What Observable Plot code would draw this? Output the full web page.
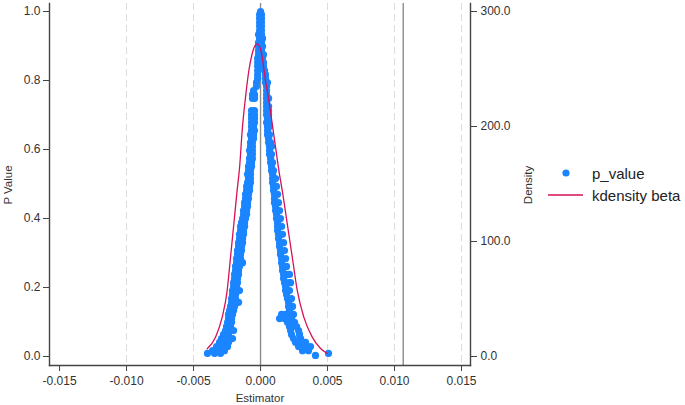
<!DOCTYPE html>
<html>
<head>
<meta charset="utf-8">
<script src="https://cdn.jsdelivr.net/npm/d3@7"></script>
<script src="https://cdn.jsdelivr.net/npm/@observablehq/plot@0.6"></script>
<style>
  html, body { margin: 0; padding: 0; background: #fff; }
  #chart { width: 685px; height: 405px; }
</style>
</head>
<body>
<div id="chart"></div>
<script>
// ---- data (one line per row of the scatter) ----
const pValue = [
  1.000,
  0.991, 0.991,
  0.980, 0.980,
  0.968, 0.968,
  0.957, 0.957,
  0.945, 0.945,
  0.933, 0.933,
  0.922, 0.922,
  0.910, 0.910,
  0.899, 0.899, 0.899,
  0.887, 0.887,
  0.875, 0.875, 0.875,
  0.864, 0.864,
  0.852, 0.852, 0.852,
  0.841, 0.841,
  0.829, 0.829,
  0.817, 0.817,
  0.806, 0.806,
  0.794, 0.794, 0.794,
  0.783, 0.783,
  0.771, 0.771,
  0.759, 0.759, 0.759,
  0.748, 0.748, 0.748, 0.748,
  0.736,
  0.725, 0.725,
  0.713, 0.713, 0.713, 0.713,
  0.701, 0.701, 0.701, 0.701,
  0.690, 0.690, 0.690,
  0.678, 0.678, 0.678, 0.678,
  0.667, 0.667, 0.667, 0.667,
  0.655, 0.655, 0.655,
  0.643, 0.643, 0.643, 0.643,
  0.632, 0.632, 0.632,
  0.620, 0.620, 0.620, 0.620,
  0.609, 0.609, 0.609, 0.609,
  0.597, 0.597, 0.597,
  0.586, 0.586, 0.586, 0.586,
  0.574, 0.574, 0.574,
  0.562, 0.562, 0.562, 0.562,
  0.551, 0.551, 0.551,
  0.539, 0.539, 0.539, 0.539,
  0.528, 0.528, 0.528,
  0.516, 0.516, 0.516, 0.516,
  0.504, 0.504, 0.504,
  0.493, 0.493, 0.493, 0.493,
  0.481, 0.481, 0.481,
  0.470, 0.470, 0.470, 0.470,
  0.458, 0.458, 0.458,
  0.446, 0.446, 0.446, 0.446,
  0.435, 0.435, 0.435,
  0.423, 0.423, 0.423, 0.423,
  0.412, 0.412, 0.412,
  0.400, 0.400, 0.400, 0.400,
  0.388, 0.388, 0.388,
  0.377, 0.377, 0.377, 0.377,
  0.365, 0.365, 0.365,
  0.354, 0.354, 0.354, 0.354,
  0.342, 0.342, 0.342,
  0.330, 0.330, 0.330, 0.330,
  0.319, 0.319, 0.319,
  0.307, 0.307, 0.307, 0.307,
  0.296, 0.296, 0.296,
  0.284, 0.284, 0.284, 0.284,
  0.272, 0.272, 0.272, 0.272,
  0.261, 0.261, 0.261, 0.261,
  0.249, 0.249, 0.249,
  0.238, 0.238, 0.238, 0.238, 0.238,
  0.226, 0.226, 0.226,
  0.214, 0.214, 0.214, 0.214, 0.214,
  0.203, 0.203, 0.203,
  0.191, 0.191, 0.191, 0.191, 0.191,
  0.180, 0.180, 0.180,
  0.168, 0.168, 0.168, 0.168,
  0.157, 0.157, 0.157, 0.157,
  0.145, 0.145, 0.145, 0.145,
  0.133, 0.133, 0.133,
  0.122, 0.122, 0.122, 0.122, 0.122, 0.122,
  0.110, 0.110, 0.110, 0.110, 0.110,
  0.099, 0.099, 0.099, 0.099,
  0.087, 0.087, 0.087, 0.087, 0.087,
  0.075, 0.075, 0.075, 0.075, 0.075,
  0.064, 0.064, 0.064, 0.064,
  0.052, 0.052, 0.052, 0.052, 0.052,
  0.041, 0.041, 0.041, 0.041, 0.041, 0.041,
  0.029, 0.029, 0.029, 0.029, 0.029, 0.029,
  0.017, 0.017, 0.017, 0.017, 0.017,
  0.009, 0.009, 0.009, 0.009,
  0.003
];
const estimator = [
  0.00000,
  -0.00007, 0.00007,
  -0.00007, 0.00007,
  -0.00007, 0.00007,
  -0.00007, 0.00007,
  -0.00007, 0.00007,
  -0.00015, 0.00007,
  -0.00007, 0.00015,
  -0.00015, 0.00007,
  -0.00015, 0.00000, 0.00015,
  -0.00015, 0.00007,
  -0.00015, 0.00000, 0.00022,
  -0.00022, 0.00015,
  -0.00022, 0.00000, 0.00022,
  -0.00022, 0.00022,
  -0.00022, 0.00030,
  -0.00022, 0.00037,
  -0.00022, 0.00037,
  -0.00030, 0.00037, 0.00052,
  -0.00030, 0.00045,
  -0.00052, 0.00045,
  -0.00060, -0.00045, 0.00045,
  -0.00060, -0.00045, 0.00045, 0.00060,
  0.00045,
  0.00045, 0.00060,
  -0.00067, -0.00045, 0.00045, 0.00060,
  -0.00067, -0.00045, 0.00045, 0.00060,
  -0.00067, -0.00045, 0.00052,
  -0.00067, -0.00045, 0.00045, 0.00060,
  -0.00067, -0.00052, 0.00052, 0.00067,
  -0.00067, -0.00045, 0.00052,
  -0.00075, -0.00052, 0.00052, 0.00067,
  -0.00067, -0.00052, 0.00060,
  -0.00075, -0.00060, 0.00060, 0.00075,
  -0.00075, -0.00060, 0.00067, 0.00082,
  -0.00082, -0.00060, 0.00067,
  -0.00075, -0.00060, 0.00067, 0.00082,
  -0.00082, -0.00060, 0.00075,
  -0.00082, -0.00067, 0.00075, 0.00090,
  -0.00090, -0.00067, 0.00082,
  -0.00090, -0.00075, 0.00082, 0.00097,
  -0.00097, -0.00075, 0.00090,
  -0.00090, -0.00075, 0.00090, 0.00112,
  -0.00097, -0.00075, 0.00090,
  -0.00104, -0.00082, 0.00097, 0.00119,
  -0.00104, -0.00082, 0.00097,
  -0.00112, -0.00090, 0.00104, 0.00127,
  -0.00112, -0.00090, 0.00104,
  -0.00119, -0.00097, 0.00104, 0.00134,
  -0.00119, -0.00097, 0.00112,
  -0.00127, -0.00104, 0.00112, 0.00142,
  -0.00127, -0.00104, 0.00119,
  -0.00134, -0.00112, 0.00119, 0.00149,
  -0.00142, -0.00119, 0.00127,
  -0.00149, -0.00119, 0.00127, 0.00157,
  -0.00149, -0.00127, 0.00127,
  -0.00157, -0.00127, 0.00134, 0.00164,
  -0.00157, -0.00134, 0.00134,
  -0.00164, -0.00134, 0.00142, 0.00172,
  -0.00164, -0.00142, 0.00142,
  -0.00172, -0.00142, 0.00149, 0.00179,
  -0.00172, -0.00149, 0.00149,
  -0.00179, -0.00149, 0.00157, 0.00187,
  -0.00179, -0.00157, -0.00134, 0.00157,
  -0.00187, -0.00157, 0.00164, 0.00194,
  -0.00187, -0.00164, 0.00164,
  -0.00194, -0.00164, 0.00172, 0.00201, 0.00216,
  -0.00194, -0.00172, 0.00172,
  -0.00201, -0.00172, 0.00179, 0.00209, 0.00224,
  -0.00201, -0.00179, 0.00187,
  -0.00209, -0.00179, -0.00157, 0.00187, 0.00216,
  -0.00209, -0.00187, 0.00194,
  -0.00216, -0.00187, 0.00201, 0.00231,
  -0.00216, -0.00194, -0.00164, 0.00209,
  -0.00224, -0.00194, 0.00209, 0.00239,
  -0.00231, -0.00201, 0.00216,
  -0.00239, -0.00209, 0.00157, 0.00187, 0.00224, 0.00246,
  -0.00239, -0.00216, 0.00142, 0.00179, 0.00231,
  -0.00246, -0.00216, 0.00201, 0.00254,
  -0.00254, -0.00224, 0.00216, 0.00246, 0.00269,
  -0.00261, -0.00231, -0.00201, 0.00224, 0.00284,
  -0.00276, -0.00239, 0.00231, 0.00291,
  -0.00291, -0.00254, -0.00209, 0.00246, 0.00299,
  -0.00306, -0.00269, -0.00239, 0.00261, 0.00313, 0.00336,
  -0.00328, -0.00284, -0.00246, 0.00284, 0.00328, 0.00373,
  -0.00358, -0.00313, -0.00269, 0.00313, 0.00358,
  -0.00396, -0.00343, -0.00299, 0.00507,
  0.00410
];

// kernel density of beta (right axis)
const kdeBeta = [-0.00398, -0.00336, -0.00286, -0.00249, -0.00224, -0.00199, -0.00177, -0.00154, -0.00137, -0.00112, -0.00087, -0.00062, -0.00025, 0.00004, 0.00037, 0.00062, 0.00087, 0.00112, 0.00137, 0.00168, 0.00199, 0.00237, 0.00274, 0.00323, 0.00386, 0.00448, 0.00498];
const kdeDensity = [6.7, 16.8, 34.2, 57.4, 86.3, 115.7, 141.7, 167.8, 196.5, 225.5, 248.7, 263.5, 271.9, 265.5, 240.0, 222.6, 202.6, 182.0, 161.7, 140.0, 115.7, 86.3, 57.4, 34.2, 16.8, 7.0, 2.6];

const xTicks = [-0.015, -0.010, -0.005, 0.000, 0.005, 0.010, 0.015];
const gridTicks = [-0.010, -0.005, 0.005, 0.010, 0.015];
const pTicks = [0, 0.2, 0.4, 0.6, 0.8, 1.0];
const densityTicks = [0, 100, 200, 300];
const densityMax = 300; // right axis top aligned with p = 1
const refLines = [0, 0.01065];

const seriesNames = ["p_value", "kdensity beta"];

// ---- build ----
if (pValue.length !== estimator.length) console.error("length mismatch", pValue.length, estimator.length);
const points = pValue.map((p, i) => ({p, est: estimator[i]}));
const kde = kdeBeta.map((x, i) => ({x, d: kdeDensity[i]}));

const blue = "#1a85ff", crimson = "#d41159";
const font = "'Liberation Sans', Arial, sans-serif";

const chart = Plot.plot({
  width: 685,
  height: 405,
  marginLeft: 49,
  marginRight: 215,
  marginTop: 3,
  marginBottom: 40,
  style: {fontFamily: font, fontSize: "12px", color: "#333", background: "#fff", overflow: "visible"},
  x: {domain: [-0.01575, 0.01567]},
  y: {domain: [-0.0261, 1.0232]},
  marks: [
    Plot.gridX(gridTicks, {stroke: "#dcdcdc", strokeOpacity: 1, strokeWidth: 1, strokeDasharray: "7,4"}),
    Plot.ruleX(refLines, {stroke: "#8c8c8c", strokeWidth: 1.4}),
    Plot.dot(points, {x: "est", y: "p", r: 3.6, fill: blue}),
    Plot.line(kde, {x: "x", y: d => d.d / densityMax, stroke: crimson, strokeWidth: 1.3, curve: "monotone-x"}),
    Plot.axisX({ticks: xTicks, tickFormat: d => d.toFixed(3), tickSize: 6, tickPadding: 5, label: null, stroke: "#444"}),
    Plot.axisY({ticks: pTicks, tickFormat: d => d.toFixed(1), tickSize: 6, tickPadding: 3, anchor: "left", label: null, stroke: "#444"}),
    Plot.axisY({ticks: densityTicks.map(d => d / densityMax), tickFormat: d => (d * densityMax).toFixed(1), tickSize: 6, tickPadding: 4, anchor: "right", label: null, stroke: "#444"}),
    Plot.frame({anchor: "left", stroke: "#444", strokeWidth: 1.4}),
    Plot.frame({anchor: "bottom", stroke: "#444", strokeWidth: 1.4}),
    Plot.frame({anchor: "right", stroke: "#444", strokeWidth: 1.4})
  ]
});

document.getElementById("chart").appendChild(chart);

// ---- titles and legend ----
const svg = d3.select(chart);
const g = svg.append("g").attr("font-family", font).attr("fill", "#333").attr("text-anchor", "middle");
g.append("text").attr("transform", "translate(12,185) rotate(-90)")
  .attr("font-size", "11.5px").text("P Value");
g.append("text").attr("x", 260).attr("y", 402)
  .attr("font-size", "11.5px").text("Estimator");
g.append("text").attr("transform", "translate(532,185) rotate(-90)")
  .attr("font-size", "11.5px").text("Density");

const lg = svg.append("g").attr("font-family", font).attr("text-anchor", "start");
lg.append("circle").attr("cx", 566).attr("cy", 173).attr("r", 3.6).attr("fill", blue);
lg.append("line").attr("x1", 548).attr("x2", 583).attr("y1", 195).attr("y2", 195)
  .attr("stroke", crimson).attr("stroke-width", 1.5);
lg.append("text").attr("x", 592).attr("y", 179).attr("font-size", "15px").attr("fill", "#222").text(seriesNames[0]);
lg.append("text").attr("x", 592).attr("y", 201).attr("font-size", "15px").attr("fill", "#222").text(seriesNames[1]);
</script>
</body>
</html>
